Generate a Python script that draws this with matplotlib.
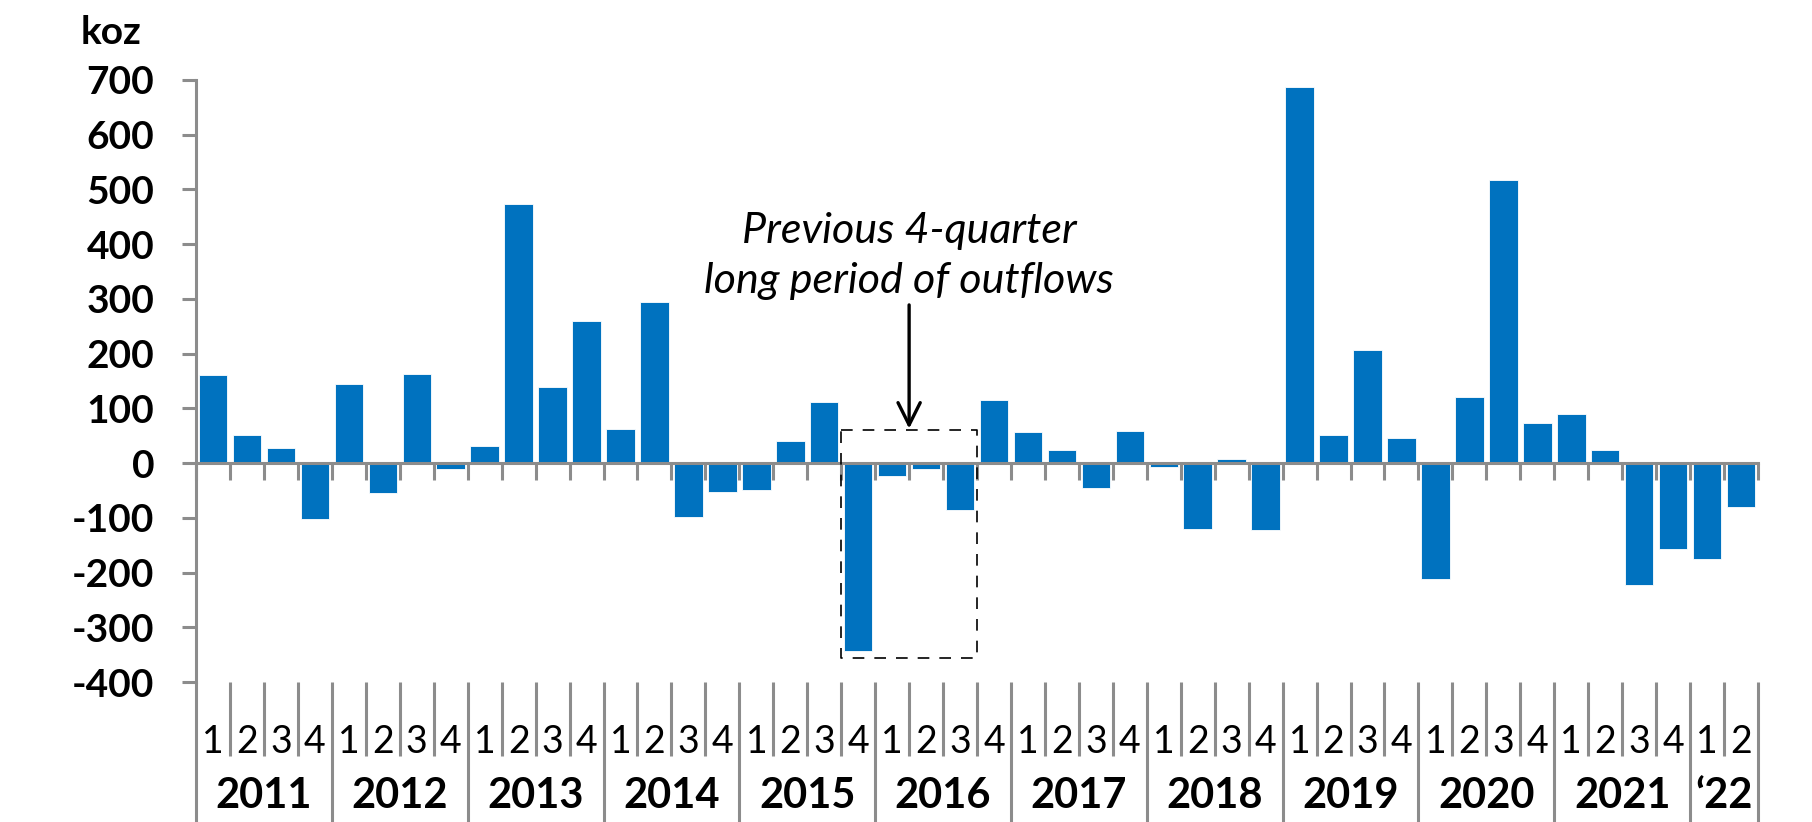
import numpy as np
from matplotlib import pyplot as plt
from matplotlib import transforms

# Quarterly flows, koz (2011 Q1 .. 2022 Q2)
years = ["2011", "2012", "2013", "2014", "2015", "2016", "2017", "2018", "2019", "2020", "2021", "\u201822"]
quarters = ["1", "2", "3", "4"] * 11 + ["1", "2"]
values = [161, 51, 27, -103,
          145, -55, 163, -11,
          31, 473, 139, 259,
          62, 295, -99, -52,
          -50, 40, 111, -343,
          -23, -11, -86, 115,
          57, 24, -45, 59,
          -7, -120, 7, -123,
          687, 52, 207, 45,
          -211, 120, 518, 74,
          90, 24, -222, -157,
          -175, -80]

plt.rcParams["font.family"] = ["Lato", "DejaVu Sans"]
plt.rcParams["axes.unicode_minus"] = False
grey = "#8c8c8c"
blue = "#0072bf"
narrow = ["Liberation Sans Narrow", "Lato", "DejaVu Sans"]

fig = plt.figure(figsize=(18.12, 8.22), dpi=100)
ax = fig.add_axes([0.1082, 0.1703, 0.8620, 0.7324])

x = np.arange(len(values))
ax.bar(x, values, width=0.84, color=blue, edgecolor="white", linewidth=0.6, zorder=2)

ax.set_xlim(-0.5, len(values) - 0.5)
ax.set_ylim(-400, 700)
ax.set_yticks(np.arange(-400, 701, 100))
ax.tick_params(axis="y", direction="out", length=10, width=2.2, color=grey, labelsize=28, pad=20)
for lab in ax.get_yticklabels():
    lab.set_fontweight("bold")

# zero line with boundary ticks
ax.spines["bottom"].set_position(("data", 0))
ax.spines["bottom"].set_color(grey)
ax.spines["bottom"].set_linewidth(2.2)
ax.spines["left"].set_color(grey)
ax.spines["left"].set_linewidth(2.2)
ax.spines["top"].set_visible(False)
ax.spines["right"].set_visible(False)
ax.set_xticks(np.arange(-0.5, len(values), 1))
ax.set_xticklabels([])
ax.tick_params(axis="x", direction="out", length=12, width=2.2, color=grey)

# category labels below the plot
trans = transforms.blended_transform_factory(ax.transData, ax.transAxes)
for i, q in enumerate(quarters):
    ax.text(i, -0.1, q, transform=trans, ha="center", va="center", fontsize=27,
            family=narrow, clip_on=False)
for k, y in enumerate(years):
    start = 4 * k
    end = min(start + 4, len(values))
    ax.text((start + end - 1) / 2, -0.19, y, transform=trans, ha="center", va="center",
            fontsize=30, fontweight="bold", clip_on=False)
for b in range(len(values) + 1):
    long_line = b % 4 == 0 or b == len(values)
    y_end = -0.26 if long_line else -0.123
    ax.plot([b - 0.5, b - 0.5], [0, y_end], transform=trans, color=grey, lw=2.2,
            clip_on=False, solid_capstyle="butt")

# annotation
ax.plot([18.5, 22.5, 22.5, 18.5, 18.5], [60, 60, -356, -356, 60], color="black",
        lw=1.2, ls=(0, (7, 6)), zorder=3)
ax.annotate("", xy=(20.5, 63), xytext=(20.5, 289),
            arrowprops=dict(arrowstyle="->,head_length=1.6,head_width=0.8", color="black",
                            lw=2.4, mutation_scale=10, shrinkA=0, shrinkB=0))
ax.text(20.5, 402, "Previous 4-quarter", ha="center", va="baseline", fontsize=31, style="italic")
ax.text(20.5, 311, "long period of outflows", ha="center", va="baseline", fontsize=31, style="italic")

fig.text(81 / 1812, 1 - 44 / 822, "koz", ha="left", va="baseline", fontsize=28, fontweight="bold")

fig.savefig("out.png", dpi=100)
